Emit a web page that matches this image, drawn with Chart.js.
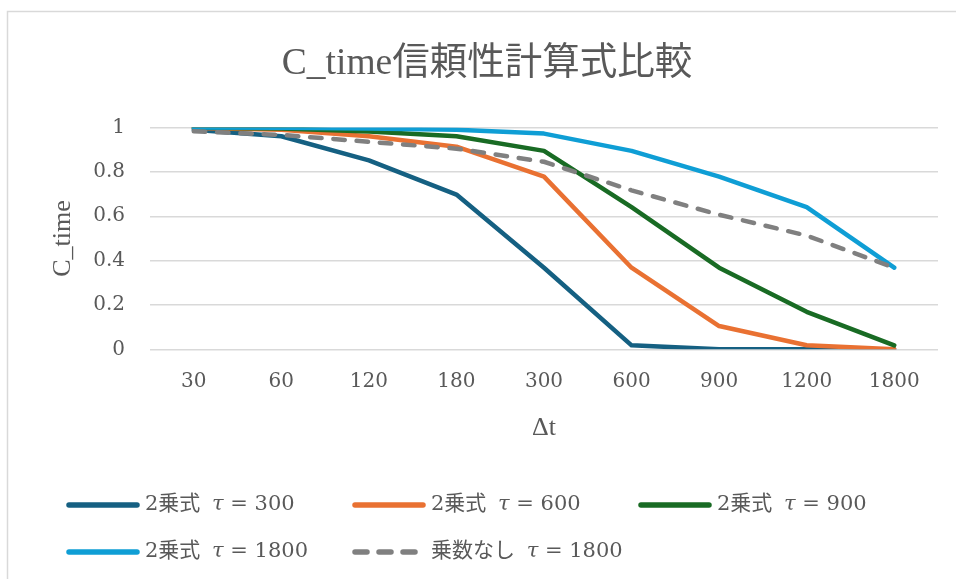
<!DOCTYPE html>
<html lang="ja">
<head>
<meta charset="utf-8">
<title>C_time信頼性計算式比較</title>
<script src="https://cdn.jsdelivr.net/npm/chart.js@4.4.1/dist/chart.umd.min.js"></script>
<style>
  html, body { margin: 0; padding: 0; background: #ffffff; }
  canvas { display: block; }
</style>
</head>
<body>
<canvas id="chart" width="956" height="579"></canvas>
<script>
// Δt categories (seconds)
const categories = ['30', '60', '120', '180', '300', '600', '900', '1200', '1800'];

// C_time values per formula
const square300  = [0.990, 0.961, 0.852, 0.698, 0.368, 0.018, 0.000, 0.000, 0.000];
const square600  = [0.998, 0.990, 0.961, 0.914, 0.779, 0.368, 0.105, 0.018, 0.000];
const square900  = [0.999, 0.996, 0.982, 0.961, 0.895, 0.641, 0.368, 0.169, 0.018];
const square1800 = [1.000, 0.999, 0.996, 0.990, 0.973, 0.895, 0.779, 0.641, 0.368];
const linear1800 = [0.983, 0.967, 0.936, 0.905, 0.846, 0.717, 0.607, 0.513, 0.368];

const seriesLabels = [
  '2乗式 τ = 300',
  '2乗式 τ = 600',
  '2乗式 τ = 900',
  '2乗式 τ = 1800',
  '乗数なし τ = 1800'
];
const seriesValues = [square300, square600, square900, square1800, linear1800];
const seriesColors = ['#156082', '#E97132', '#196B24', '#0F9ED5', '#808080'];
const seriesDashes = [[], [], [], [], [11.5, 11.8]];

const TEXT = '#595959';
const SERIF = '"Liberation Serif", "Noto Sans CJK JP", serif';
const NUM = '"DejaVu Serif", "Noto Sans CJK JP", serif';

// light frame around the chart
const framePlugin = {
  id: 'frame',
  beforeDraw(chart) {
    const ctx = chart.ctx;
    ctx.save();
    ctx.fillStyle = '#ffffff';
    ctx.fillRect(0, 0, chart.width, chart.height);
    ctx.strokeStyle = '#d9d9d9';
    ctx.lineWidth = 1.5;
    ctx.strokeRect(7.5, 11.5, chart.width + 20, chart.height + 20);
    ctx.restore();
  }
};

// legend in three columns under the axis, with an italic τ
const legendPlugin = {
  id: 'columnLegend',
  afterDraw(chart) {
    const ctx = chart.ctx;
    chart.data.datasets.forEach((ds, i) => {
      const col = i % 3, row = Math.floor(i / 3);
      const x = 69 + col * 286;
      const y = 505 + row * 47;
      ctx.save();
      ctx.strokeStyle = ds.borderColor;
      ctx.lineWidth = 5.5;
      ctx.lineCap = 'round';
      ctx.setLineDash(ds.borderDash && ds.borderDash.length ? [12, 12] : []);
      ctx.beginPath();
      ctx.moveTo(x, y);
      ctx.lineTo(x + 68, y);
      ctx.stroke();
      ctx.setLineDash([]);

      ctx.fillStyle = TEXT;
      ctx.textBaseline = 'middle';
      ctx.textAlign = 'left';
      const parts = ds.label.split('τ');
      let tx = x + 76;
      ctx.font = '21px ' + NUM;
      ctx.fillText(parts[0], tx, y);
      tx += ctx.measureText(parts[0]).width + 5;
      ctx.font = 'italic 21px ' + NUM;
      ctx.fillText('τ', tx, y);
      tx += ctx.measureText('τ').width;
      ctx.font = '21px ' + NUM;
      ctx.fillText(parts[1], tx, y);
      ctx.restore();
    });
  }
};

const datasets = seriesLabels.map((label, i) => ({
  label: label,
  data: seriesValues[i],
  borderColor: seriesColors[i],
  backgroundColor: seriesColors[i],
  borderWidth: 4.5,
  borderDash: seriesDashes[i],
  borderCapStyle: 'round',
  borderJoinStyle: 'round',
  pointRadius: 0,
  pointHoverRadius: 0,
  fill: false,
  tension: 0,
  order: seriesLabels.length - i
}));

new Chart(document.getElementById('chart'), {
  type: 'line',
  data: { labels: categories, datasets: datasets },
  options: {
    responsive: false,
    animation: false,
    events: [],
    layout: { padding: { left: 36, right: 18, top: 0, bottom: 129.7 } },
    plugins: {
      legend: { display: false },
      tooltip: { enabled: false },
      title: {
        display: true,
        text: 'C_time信頼性計算式比較',
        color: TEXT,
        font: { family: SERIF, size: 37.5, weight: 'normal', lineHeight: 1.2 },
        padding: { top: 42, bottom: 40.6 }
      }
    },
    scales: {
      x: {
        type: 'category',
        offset: true,
        grid: { display: false, drawTicks: false },
        border: { display: false },
        ticks: {
          color: TEXT,
          padding: 20,
          maxRotation: 0,
          autoSkip: false,
          font: { family: NUM, size: 20, lineHeight: 1.2 }
        },
        title: {
          display: true,
          text: 'Δt',
          color: TEXT,
          font: { family: SERIF, size: 26, lineHeight: 1.2 },
          padding: { top: 0, bottom: 6 }
        },
        afterFit(scale) { scale.height = 100; }
      },
      y: {
        min: 0,
        max: 1,
        grid: { color: '#d9d9d9', lineWidth: 1.5, drawTicks: false },
        border: { display: false },
        ticks: {
          stepSize: 0.2,
          color: TEXT,
          padding: 25,
          font: { family: NUM, size: 20, lineHeight: 1.2 },
          callback: (value) => String(Math.round(value * 10) / 10)
        },
        title: {
          display: true,
          text: 'C_time',
          color: TEXT,
          font: { family: SERIF, size: 26, lineHeight: 1.2 },
          padding: { top: 11.4, bottom: 0 }
        },
        afterFit(scale) { scale.width = 114; }
      }
    }
  },
  plugins: [framePlugin, legendPlugin]
});
</script>
</body>
</html>
